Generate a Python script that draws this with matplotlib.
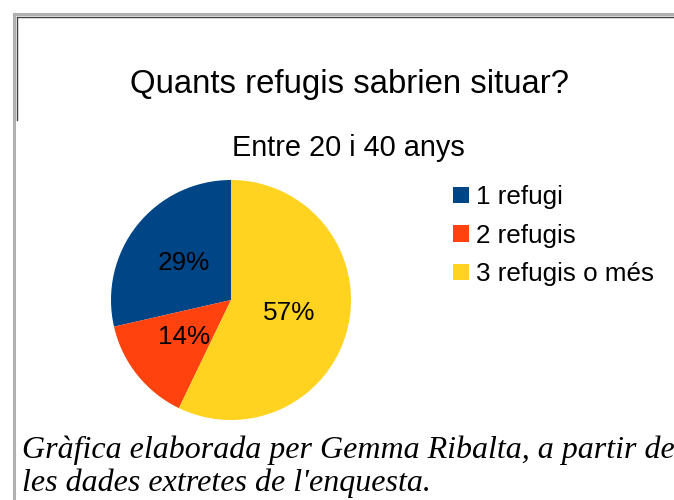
import matplotlib.pyplot as plt
from matplotlib.lines import Line2D

# dades
categories = ['1 refugi', '2 refugis', '3 refugis o més']
values = [2, 1, 4]
colors = ['#004586', '#ff420e', '#ffd320']

title = 'Quants refugis sabrien situar?'
subtitle = 'Entre 20 i 40 anys'
caption_lines = ['Gràfica elaborada per Gemma Ribalta, a partir de',
                 "les dades extretes de l'enquesta."]

plt.rcParams['font.family'] = ['Liberation Sans', 'DejaVu Sans']

W, H = 674, 500
fig = plt.figure(figsize=(W / 100, H / 100), dpi=100)

# marc gris
fig.add_artist(Line2D([14 / W, 14 / W], [0, 1 - 14 / H], color='#b0b0b0', lw=2.2))
fig.add_artist(Line2D([14 / W, 1], [1 - 14 / H, 1 - 14 / H], color='#b0b0b0', lw=2.2))
fig.add_artist(Line2D([16.5 / W, 1], [1 - 16.5 / H, 1 - 16.5 / H], color='#404040', lw=1))
fig.add_artist(Line2D([16.5 / W, 16.5 / W], [1 - 120 / H, 1 - 16.5 / H], color='#404040', lw=1))

fig.text(349.5 / W, 1 - 85 / H, title, ha='center', va='center', fontsize=23.7)
fig.text(348.5 / W, 1 - 148 / H, subtitle, ha='center', va='center', fontsize=20.8)

ax = fig.add_axes([(231 - 120) / W, (500 - 420) / H, 240 / W, 240 / H])
wedges, texts, autotexts = ax.pie(values, colors=colors, startangle=90, counterclock=True,
                                  autopct='%1.0f%%', pctdistance=0.5,
                                  textprops={'fontsize': 18.8})
ax.set_xlim(-1, 1)
ax.set_ylim(-1, 1)
ax.set_aspect('equal')

fig.legend(wedges, categories, loc='upper left', bbox_to_anchor=(440 / W, 1 - 172 / H),
           frameon=False, fontsize=18.7, handlelength=0.6, handleheight=0.6,
           handletextpad=0.3, labelspacing=0.56, borderpad=0)

fig.text(22 / W, 1 - 458 / H, caption_lines[0], ha='left', va='baseline', fontsize=23,
         family='Liberation Serif', style='italic')
fig.text(22 / W, 1 - 491 / H, caption_lines[1], ha='left', va='baseline', fontsize=23,
         family='Liberation Serif', style='italic')

fig.savefig('out.png', dpi=100)
